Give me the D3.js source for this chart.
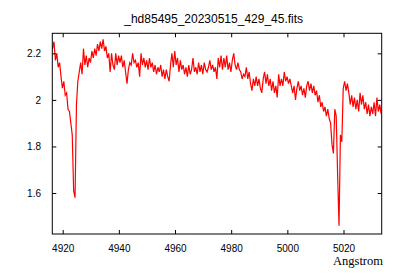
<!DOCTYPE html>
<html>
<head>
<meta charset="utf-8">
<script src="https://cdn.jsdelivr.net/npm/d3@7"></script>
<style>
  html, body { margin: 0; padding: 0; background: #fff; }
  svg { display: block; }
</style>
</head>
<body>
<svg id="chart" width="400" height="280"></svg>
<script>
const titleText = "_hd85495_20230515_429_45.fits";
const xLabel = "Angstrom";
const xTicks = [4920, 4940, 4960, 4980, 5000, 5020];
const yTicks = [1.6, 1.8, 2, 2.2];
const xDomain = [4916.3, 5033.6];
const yDomain = [1.424, 2.286];
const waveStart = 4916.4;
const waveStep = 0.5;
const flux = [
  2.22,2.25,2.17,2.20,2.14,2.16,2.10,2.05,2.08,2.02,
  2.03,1.96,1.95,1.90,1.85,1.61,1.58,1.98,2.08,2.12,
  2.16,2.11,2.22,2.15,2.19,2.14,2.18,2.16,2.21,2.18,
  2.22,2.19,2.24,2.21,2.25,2.22,2.26,2.21,2.23,2.18,
  2.20,2.12,2.20,2.15,2.13,2.20,2.15,2.19,2.16,2.19,
  2.14,2.17,2.12,2.07,2.13,2.16,2.15,2.20,2.16,2.17,
  2.14,2.16,2.10,2.20,2.15,2.18,2.14,2.17,2.13,2.18,
  2.14,2.16,2.12,2.15,2.11,2.14,2.12,2.15,2.10,2.13,
  2.09,2.13,2.10,2.08,2.15,2.20,2.14,2.21,2.15,2.18,
  2.12,2.17,2.13,2.15,2.11,2.14,2.10,2.15,2.11,2.13,
  2.18,2.12,2.14,2.11,2.16,2.12,2.15,2.11,2.16,2.13,
  2.12,2.14,2.17,2.13,2.15,2.12,2.14,2.09,2.18,2.14,
  2.19,2.13,2.18,2.14,2.19,2.13,2.16,2.12,2.17,2.20,
  2.15,2.13,2.16,2.13,2.12,2.09,2.11,2.10,2.14,2.09,
  2.12,2.07,2.04,2.09,2.06,2.10,2.06,2.09,2.05,2.03,
  2.09,2.12,2.07,2.11,2.06,2.09,2.04,2.08,2.03,2.06,
  2.01,2.11,2.06,2.09,2.06,2.12,2.08,2.10,2.07,2.09,
  2.06,2.03,2.06,2.00,2.05,2.08,2.04,2.06,2.02,2.05,
  2.01,2.06,2.08,2.04,2.07,2.03,2.06,2.02,2.04,1.99,
  2.02,1.97,1.99,1.95,1.97,1.93,1.96,1.92,1.90,1.81,
  1.77,1.96,1.93,1.68,1.46,1.85,1.82,2.05,2.08,2.04,
  2.07,2.03,1.98,2.02,1.97,2.01,1.96,2.00,1.95,2.03,
  1.98,2.02,1.96,1.99,1.94,1.98,1.93,1.97,1.94,1.99,
  1.93,2.01,1.95,1.98,1.94
];
const spectrum = flux.map((f, i) => ({ w: waveStart + waveStep * i, f: f }));

const svg = d3.select("#chart");
const L = 52.3, R = 381.7, T = 33.3, B = 234;
const x = d3.scaleLinear().domain(xDomain).range([L, R]);
const y = d3.scaleLinear().domain(yDomain).range([B, T]);
const tickFont = "'Liberation Sans', Arial, sans-serif";

svg.append("rect").attr("width", 400).attr("height", 280).attr("fill", "#fff");

// data line
svg.append("path")
  .datum(spectrum)
  .attr("fill", "none")
  .attr("stroke", "#ff0000")
  .attr("stroke-width", 1.2)
  .attr("stroke-linejoin", "miter")
  .attr("d", d3.line().x(d => x(d.w)).y(d => y(d.f)));

function styleAxis(g) {
  g.select(".domain").remove();
  g.selectAll(".tick line").attr("stroke", "#000").attr("stroke-width", 1);
  g.selectAll(".tick text").attr("fill", "#000")
    .style("font-family", tickFont).style("font-size", "10px");
}

svg.append("g").attr("transform", `translate(0,${B})`)
  .call(d3.axisBottom(x).tickValues(xTicks).tickSizeInner(-4).tickSizeOuter(0).tickPadding(11).tickFormat(d3.format("d")))
  .call(styleAxis);
svg.append("g").attr("transform", `translate(0,${T})`)
  .call(d3.axisTop(x).tickValues(xTicks).tickSizeInner(-4).tickSizeOuter(0).tickFormat(""))
  .call(styleAxis);
svg.append("g").attr("transform", `translate(${L},0)`)
  .call(d3.axisLeft(y).tickValues(yTicks).tickSizeInner(-4).tickSizeOuter(0).tickPadding(11.3).tickFormat(d3.format("")))
  .call(styleAxis);
svg.append("g").attr("transform", `translate(${R},0)`)
  .call(d3.axisRight(y).tickValues(yTicks).tickSizeInner(-4).tickSizeOuter(0).tickFormat(""))
  .call(styleAxis);

// frame
svg.append("rect")
  .attr("x", L).attr("y", T).attr("width", R - L).attr("height", B - T)
  .attr("fill", "none").attr("stroke", "#000").attr("stroke-width", 1);

svg.append("text")
  .attr("x", 213.7).attr("y", 23)
  .attr("text-anchor", "middle")
  .style("font-family", tickFont).style("font-size", "12px")
  .text(titleText);

svg.append("text")
  .attr("x", 383).attr("y", 264.5)
  .attr("text-anchor", "end")
  .style("font-family", "'Liberation Serif', 'Times New Roman', serif").style("font-size", "12.5px")
  .text(xLabel);
</script>
</body>
</html>
